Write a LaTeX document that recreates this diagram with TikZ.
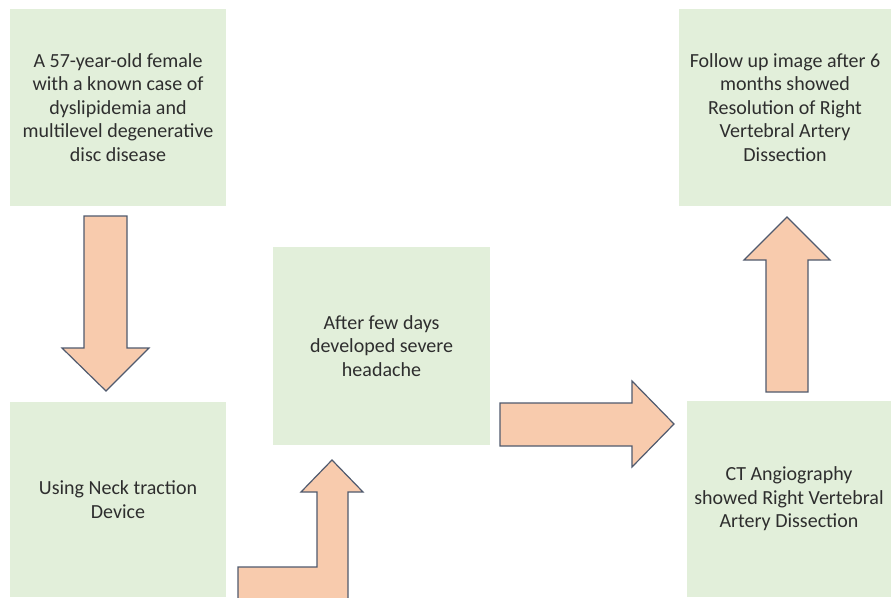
\documentclass[tikz,border=0pt]{standalone}
\usepackage{fontspec}
\setmainfont{Carlito}
\definecolor{boxgreen}{HTML}{E2EFDA}
\definecolor{arrowfill}{HTML}{F8CBAD}
\definecolor{arrowline}{HTML}{505A6E}
\definecolor{txt}{HTML}{2E2E2E}
\tikzset{
  infobox/.style={rectangle, fill=boxgreen, draw=none, align=center, text=txt,
    font=\fontsize{20}{23.5}\selectfont, inner sep=0pt},
  blockarrow/.style={fill=arrowfill, draw=arrowline, line width=1.2pt, line join=miter}
}
\begin{document}
\begin{tikzpicture}[x=1pt,y=-1pt]
\useasboundingbox (0,0) rectangle (891,597);
\clip (0,0) rectangle (891,597);
\fill[white] (0,0) rectangle (891,597);
% boxes
\node[infobox, minimum width=216pt, minimum height=197pt] (b1) at (118,107.5)
  {A 57-year-old female\\with a known case of\\dyslipidemia and\\multilevel degenerative\\disc disease};
\node[infobox, minimum width=216pt, minimum height=195pt] (b2) at (118,499.5)
  {Using Neck traction\\Device};
\node[infobox, minimum width=217pt, minimum height=198pt] (b3) at (381.5,346)
  {After few days\\developed severe\\headache};
\node[infobox, minimum width=204pt, minimum height=196pt] (b4) at (789,499)
  {CT Angiography\\showed Right Vertebral\\Artery Dissection};
\node[infobox, minimum width=212pt, minimum height=197pt] (b5) at (785,107.5)
  {Follow up image after 6\\months showed\\Resolution of Right\\Vertebral Artery\\Dissection};
% arrows
\draw[blockarrow] (84,216) -- (127,216) -- (127,348) -- (149,348) -- (106,391) -- (62,348) -- (84,348) -- cycle;
\draw[blockarrow] (238,604) -- (238,567) -- (317,567) -- (317,492) -- (301,492) -- (332,460) -- (363,492) -- (348,492) -- (348,604) -- cycle;
\draw[blockarrow] (500,403) -- (632,403) -- (632,381) -- (674,424) -- (632,467) -- (632,446) -- (500,446) -- cycle;
\draw[blockarrow] (766,392) -- (808,392) -- (808,260) -- (830,260) -- (787,217) -- (744,260) -- (766,260) -- cycle;
\end{tikzpicture}
\end{document}
